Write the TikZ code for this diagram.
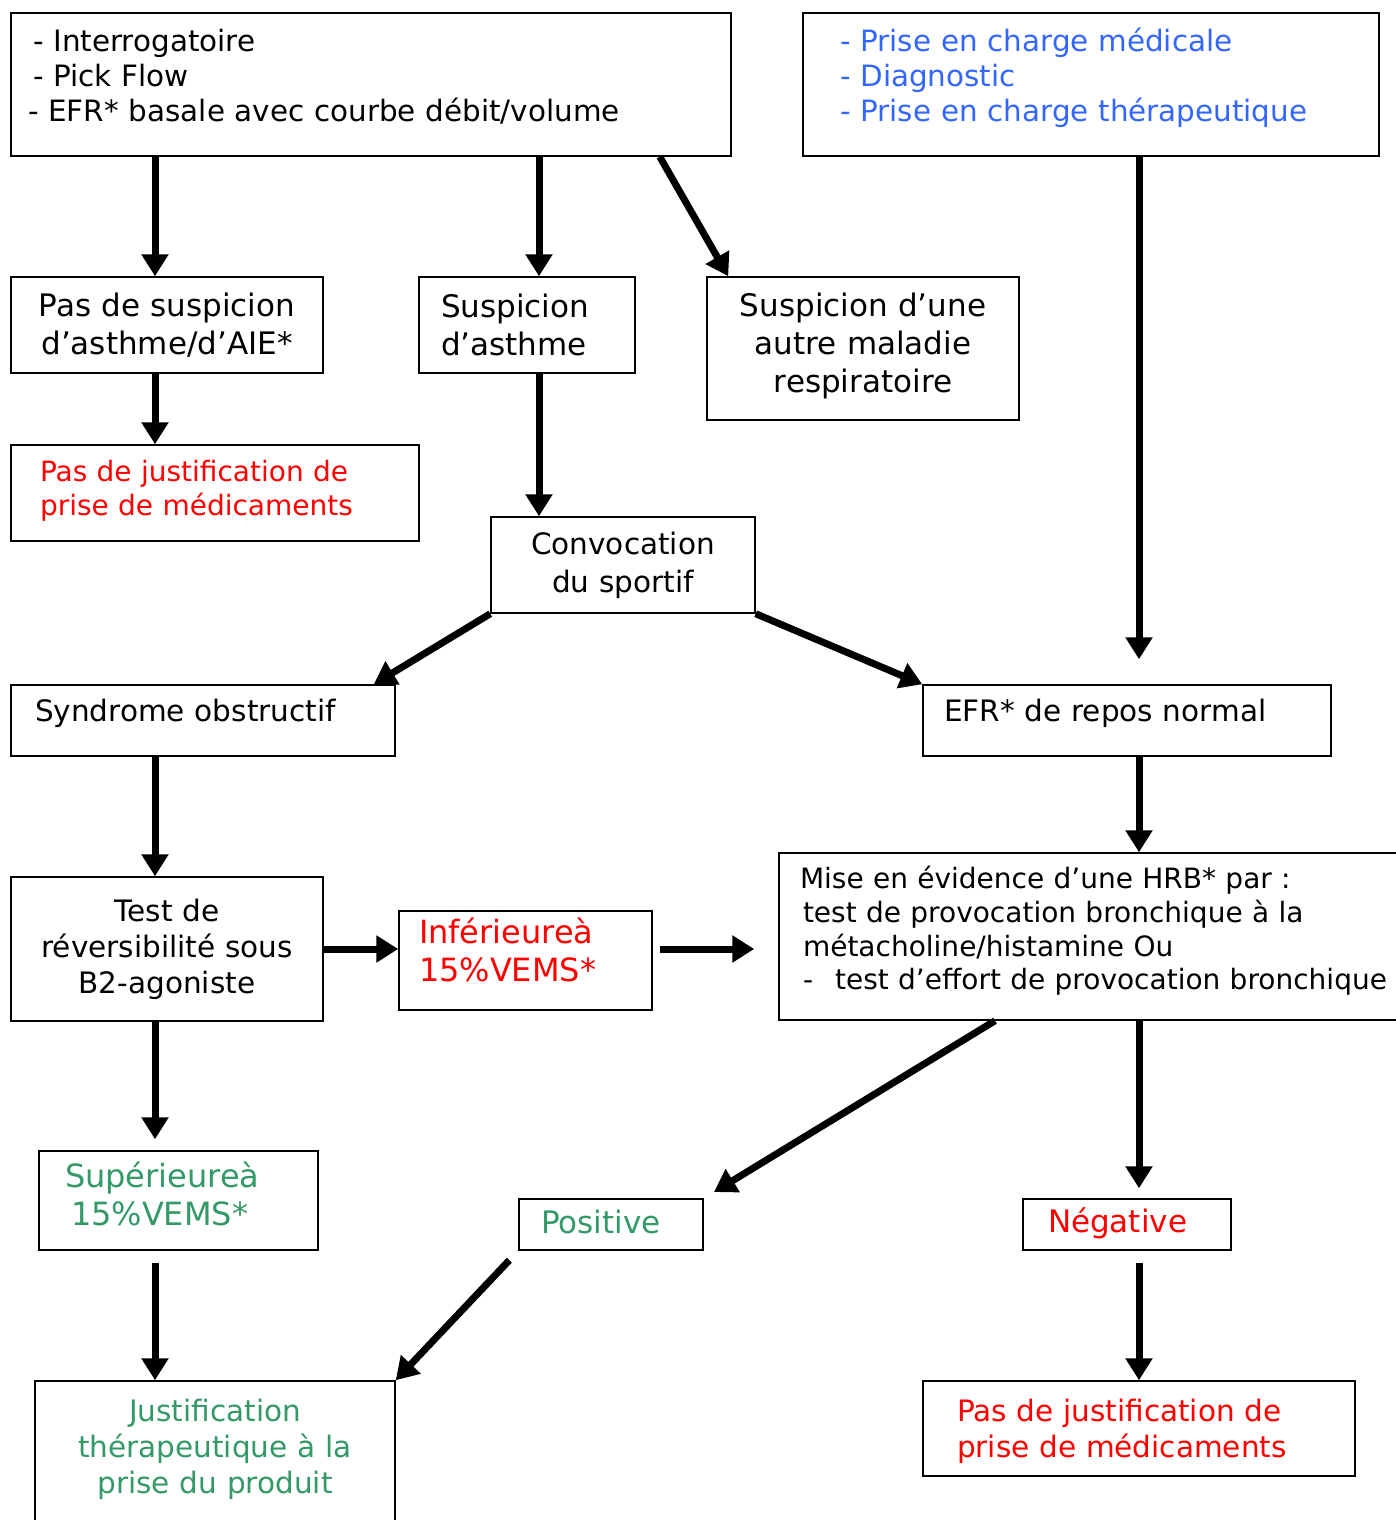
\documentclass[tikz,border=0pt]{standalone}
\usepackage{fontspec}
\setmainfont{DejaVu Sans}
\usetikzlibrary{arrows.meta}

\definecolor{txtblue}{HTML}{3366FF}
\definecolor{txtred}{HTML}{FF0000}
\definecolor{txtgreen}{HTML}{339966}

\newcommand{\fsT}{\fontsize{29.4}{35}\selectfont}
\newcommand{\fsS}{\fontsize{28}{34}\selectfont}
\newcommand{\fsM}{\fontsize{29.5}{36}\selectfont}
\newcommand{\fsL}{\fontsize{31}{38}\selectfont}
\newcommand{\fsX}{\fontsize{32}{38}\selectfont}
\newcommand{\padbot}[1]{\par\vspace*{#1}\hrule height 0pt width 0pt}

\tikzstyle{box}=[draw, line width=1.5pt, inner ysep=0pt]
\tikzstyle{left box}=[box, align=left]
\tikzstyle{mid box}=[box, align=center, inner xsep=5pt]
\tikzstyle{flow}=[draw, line width=7pt, -{Triangle[length=22pt,width=26pt]}]

\begin{document}
\begin{tikzpicture}[x=1pt, y=-1pt]
    \useasboundingbox (0,0) rectangle (1396,1520);
    % First the boxes of the top row
    \node[left box, font=\fsT, text width=686pt, inner xsep=17pt, minimum height=143pt] (top) at (371,84.5)
        {\hspace*{5pt}- Interrogatoire\\\hspace*{5pt}- Pick Flow\\- EFR* basale avec courbe débit/volume\padbot{16pt}};
    \node[left box, font=\fsT, text=txtblue, text width=502pt, inner xsep=37pt, minimum height=143pt] (prise) at (1091,84.5)
        {- Prise en charge médicale\\- Diagnostic\\- Prise en charge thérapeutique\padbot{14pt}};
    % Suspicions
    \node[mid box, font=\fsL, text width=302pt, minimum height=96pt] (nosusp) at (167,325)
        {Pas de suspicion\\d’asthme/d’AIE*};
    \node[left box, font=\fsL, text width=172pt, inner xsep=22pt, minimum height=96pt] (susp) at (527,325)
        {Suspicion\\d’asthme};
    \node[mid box, font=\fsL, text width=302pt, minimum height=143pt] (autre) at (863,348.5)
        {Suspicion d’une\\autre maladie\\respiratoire\padbot{5pt}};
    \node[left box, font=\fsS, text=txtred, text width=350pt, inner xsep=29pt, minimum height=96pt] (nojust1) at (215,493)
        {Pas de justification de\\prise de médicaments\padbot{4pt}};
    \node[mid box, font={\fontsize{29.5}{38}\selectfont}, text width=254pt, minimum height=96pt] (convoc) at (623,565)
        {Convocation\\du sportif};
    % Resting tests
    \node[left box, font=\fsM, text width=336pt, inner xsep=24pt, minimum height=71pt] (obstr) at (203,720.5)
        {Syndrome obstructif\padbot{14pt}};
    \node[left box, font=\fsM, text width=366pt, inner xsep=21pt, minimum height=71pt] (efr) at (1127,720.5)
        {EFR* de repos normal\padbot{14pt}};
    \node[mid box, font=\fsM, text width=302pt, minimum height=144pt] (test) at (167,949)
        {Test de\\réversibilité sous\\B2-agoniste};
    \node[left box, font=\fsX, text=txtred, text width=213pt, inner xsep=20pt, minimum height=99pt] (inf) at (525.5,960.5)
        {Inférieureà\\15\%VEMS*\padbot{21pt}};
    \node[left box, font={\fontsize{28}{33.7}\selectfont}, text width=598pt, inner xsep=21pt, minimum height=167pt] (hrb) at (1099,936.5)
        {Mise en évidence d’une HRB* par :\\\hspace*{3pt}test de provocation bronchique à la\\\hspace*{3pt}métacholine/histamine Ou\\\hspace*{3pt}-\hspace{22pt}test d’effort de provocation bronchique\padbot{11pt}};
    % Results
    \node[left box, font=\fsX, text=txtgreen, text width=227pt, inner xsep=26pt, minimum height=99pt] (sup) at (178.5,1200.5)
        {Supérieureà\\\hspace*{6pt}15\%VEMS*\padbot{14pt}};
    \node[left box, font=\fsL, text=txtgreen, text width=140pt, inner xsep=22pt, minimum height=51pt] (pos) at (611,1224.5)
        {Positive\padbot{5pt}};
    \node[left box, font=\fsL, text=txtred, text width=158pt, inner xsep=25pt, minimum height=51pt] (neg) at (1127,1224.5)
        {Négative\padbot{3pt}};
    \node[mid box, font=\fsM, text=txtgreen, text width=350pt, minimum height=170pt] (just) at (215,1466)
        {Justification\\thérapeutique à la\\prise du produit\padbot{34pt}};
    \node[left box, font=\fsM, text=txtred, text width=364pt, inner xsep=34pt, minimum height=95pt] (nojust2) at (1139,1428.5)
        {Pas de justification de\\prise de médicaments\padbot{-6pt}};
    % Connect the boxes
    \path[flow] ([xshift=-216pt]top.south) -- ([xshift=-12pt]nosusp.north);
    \path[flow] ([xshift=168pt]top.south) -- ([xshift=12pt]susp.north);
    \path[flow] ([xshift=-72pt]top.south east) -- ([xshift=22pt]autre.north west);
    \path[flow, shorten >=25pt] ([xshift=48pt]prise.south) -- ([xshift=12pt]efr.north);
    \path[flow] ([xshift=-12pt]nosusp.south) -- ([xshift=-60pt]nojust1.north);
    \path[flow] ([xshift=12pt]susp.south) -- ([xshift=-84pt]convoc.north);
    \path[flow] (convoc.south west) -- ([xshift=-22pt]obstr.north east);
    \path[flow] (convoc.south east) -- (efr.north west);
    \path[flow] ([xshift=-48pt]obstr.south) -- ([xshift=-12pt]test.north);
    \path[flow] ([xshift=12pt]efr.south) -- ([xshift=40pt]hrb.north);
    \path[flow] (test.east) -- (inf.west |- test.east);
    \path[flow, shorten <=7pt, shorten >=24pt] (inf.east |- test.east) -- (hrb.west |- test.east);
    \path[flow, shorten >=11pt] ([xshift=-12pt]test.south) -- ([xshift=-23.5pt]sup.north);
    \path[flow, shorten >=12pt] ([xshift=-104pt]hrb.south) -- (pos.north east);
    \path[flow, shorten >=10pt] ([xshift=40pt]hrb.south) -- ([xshift=12pt]neg.north);
    \path[flow, shorten <=12pt] ([xshift=-23.5pt]sup.south) -- ([xshift=-60pt]just.north);
    \path[flow, shorten <=13pt] (pos.south west) -- (just.north east);
    \path[flow, shorten <=12pt] ([xshift=12pt]neg.south) -- (nojust2.north);
\end{tikzpicture}
\end{document}
